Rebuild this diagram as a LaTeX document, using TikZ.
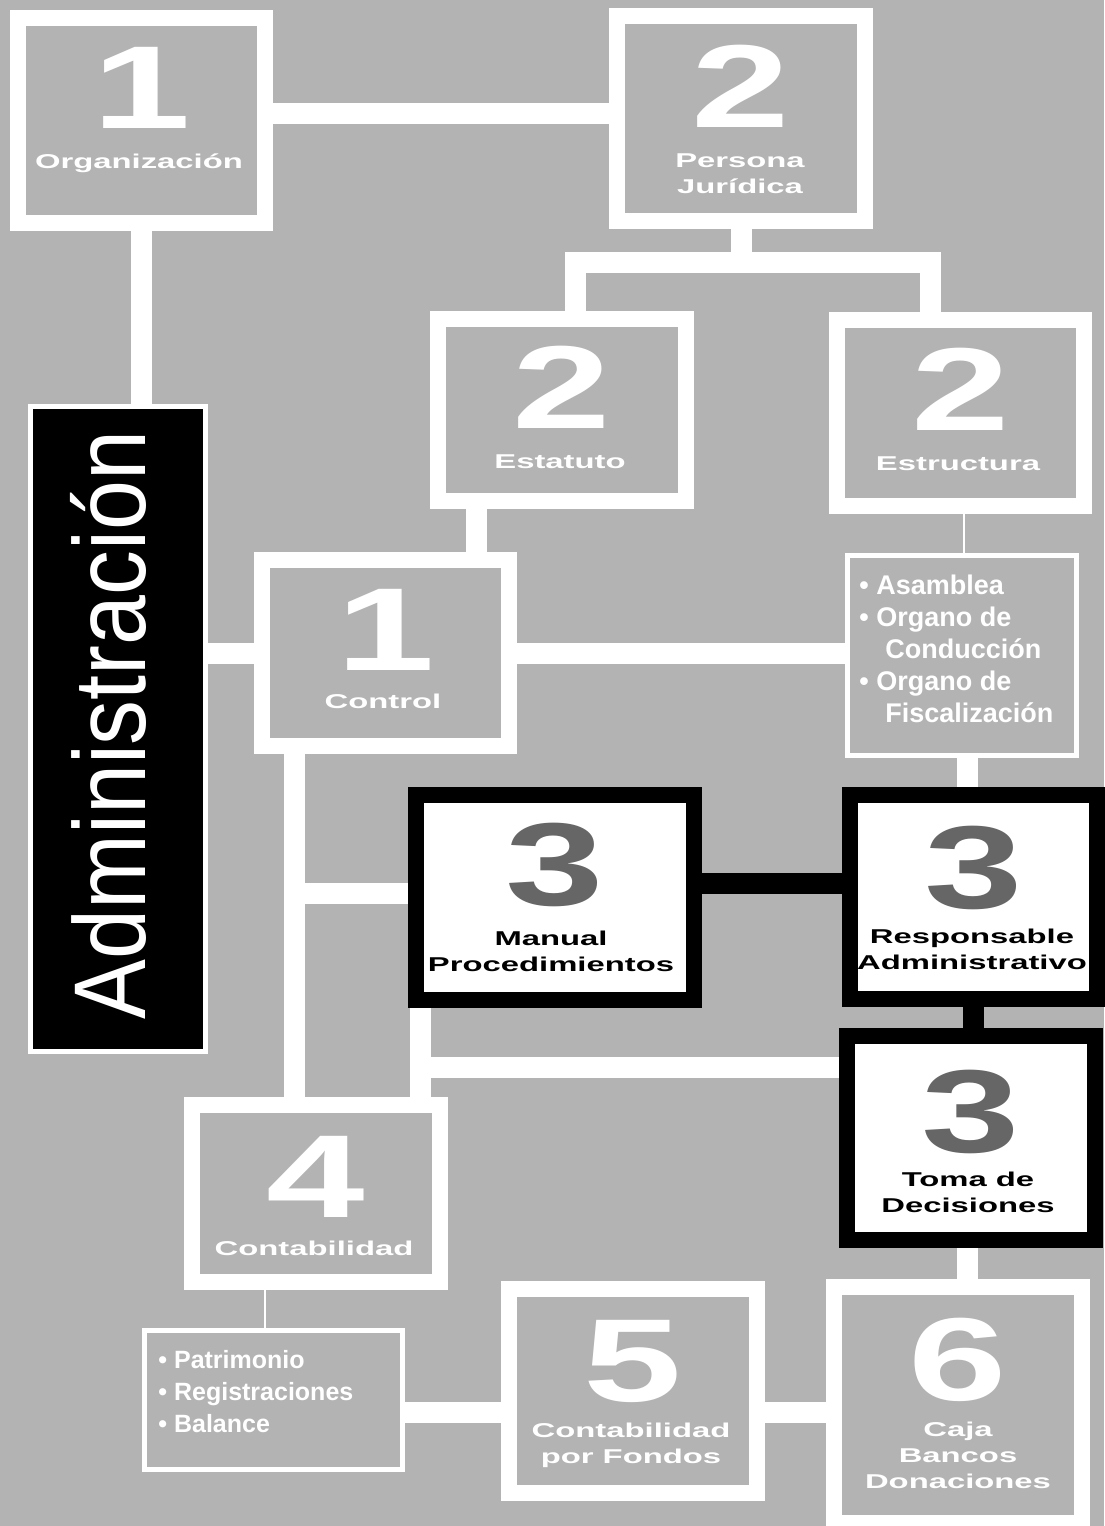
\documentclass[tikz,border=0pt]{standalone}
\usepackage{fontspec}
\setmainfont{Liberation Sans}
\newfontfamily\wf[FakeStretch=1.64]{Liberation Sans}
\newfontfamily\nf[FakeStretch=1.5]{Liberation Sans}
\newfontfamily\af[FakeStretch=0.88]{Liberation Sans}
\pgfdeclarelayer{bglayer}
\pgfdeclarelayer{links}
\pgfsetlayers{bglayer,links,main}
\definecolor{bgc}{RGB}{179,179,179}
\definecolor{numg}{RGB}{102,102,102}
\begin{document}
\begin{tikzpicture}[x=0.5pt,y=-0.5pt,
  gbox/.style={rectangle,draw=white,fill=bgc,line width=8pt,inner sep=0pt},
  kbox/.style={rectangle,draw=black,fill=white,line width=8pt,inner sep=0pt},
  tbox/.style={rectangle,draw=white,fill=bgc,line width=2.5pt,inner sep=0pt},
  wl/.style={draw=white,line width=10.5pt},
  kl/.style={draw=black,line width=10.5pt},
  hair/.style={draw=white,line width=1pt},
  num/.style={font=\nf\bfseries\fontsize{59}{59}\selectfont,text=white,inner sep=0pt,anchor=base,text depth=0pt,text height=43pt},
  knum/.style={num,text=numg},
  lab/.style={font=\wf\bfseries\fontsize{10}{12.8}\selectfont,text=white,inner sep=0pt,anchor=base,align=center},
  klab/.style={lab,text=black},
  lst/.style={font=\bfseries\fontsize{13.5}{16}\selectfont,text=white,inner sep=0pt,anchor=base west,align=left}]

\begin{pgfonlayer}{bglayer}
\fill[bgc] (0,0) rectangle (1104,1526);
\end{pgfonlayer}
\useasboundingbox (0,0) rectangle (1104,1526);

% boxes
\node[gbox,minimum width=123.5pt,minimum height=102.5pt] (b1) at (141.5,120.5) {};
\node[gbox,minimum width=124pt,minimum height=102.5pt] (b2) at (741,118.5) {};
\node[gbox,minimum width=124pt,minimum height=91pt] (est) at (562,410) {};
\node[gbox,minimum width=123.5pt,minimum height=93pt] (estr) at (960.5,413) {};
\node[gbox,minimum width=123.5pt,minimum height=93pt] (ctl) at (385.5,653) {};
\node[kbox,minimum width=139pt,minimum height=102.5pt] (man) at (555,897.5) {};
\node[kbox,minimum width=123.5pt,minimum height=102pt] (resp) at (973.5,897) {};
\node[kbox,minimum width=124pt,minimum height=102pt] (toma) at (971,1138) {};
\node[gbox,minimum width=124pt,minimum height=88.5pt] (cont) at (316,1193.5) {};
\node[gbox,minimum width=124pt,minimum height=102pt] (b5) at (633,1391) {};
\node[gbox,minimum width=124pt,minimum height=118pt] (b6) at (958,1405) {};
\node[tbox,fill=black,minimum width=87.5pt,minimum height=322.5pt] (admin) at (118,729) {};
\node[tbox,minimum width=114.5pt,minimum height=100pt] (lr) at (962,655.5) {};
\node[tbox,minimum width=129pt,minimum height=69.5pt] (ll) at (273.5,1400) {};

% numbers
\node[num] (n1) at (141.5,128) {1};
\node[num] (n2) at (741,127) {2};
\node[num] (n2a) at (562,428) {2};
\node[num] (n2b) at (960.5,430) {2};
\node[num] (n1b) at (385.5,670) {1};
\node[knum] (n3a) at (555,905) {3};
\node[knum] (n3b) at (973.5,908) {3};
\node[knum] (n3c) at (971,1152) {3};
\node[num] (n4) at (316,1217) {4};
\node[num] (n5) at (633,1401) {5};
\node[num] (n6) at (958,1400) {6};

% labels (anchor base = baseline of the last line)
\node[lab] (t1) at (139,168) {Organización};
\node[lab] (t2) at (740,193) {Persona\\Jurídica};
\node[lab] (t2a) at (560,468) {Estatuto};
\node[lab] (t2b) at (958,470) {Estructura};
\node[lab] (t1b) at (383,708) {Control};
\node[klab] (t3a) at (551,971) {Manual\\Procedimientos};
\node[klab] (t3b) at (972,969) {Responsable\\Administrativo};
\node[klab] (t3c) at (968,1212) {Toma de\\Decisiones};
\node[lab] (t4) at (314,1255) {Contabilidad};
\node[lab] (t5) at (631,1463) {Contabilidad\\por Fondos};
\node[lab] (t6) at (958,1488) {Caja\\Bancos\\Donaciones};
\node[lst] (tlr) at (859,722) {• Asamblea\\• Organo de\\\hspace*{13pt}Conducción\\• Organo de\\\hspace*{13pt}Fiscalización};
\node[lst,font=\bfseries\fontsize{12.5}{16}\selectfont] (tll) at (158,1432) {• Patrimonio\\• Registraciones\\• Balance};
\node[rotate=90,anchor=base,font=\af\fontsize{51}{51}\selectfont,text=white,inner sep=0pt] (tadm) at (145,725) {Administración};

% helper coordinates
\coordinate (y113) at (0,113.5);
\coordinate (x141) at (141,0);
\coordinate (barL) at (575.5,262.5);
\coordinate (barR) at (930.5,262.5);
\coordinate (x476) at (476.5,0);
\coordinate (x963) at (963.5,0);
\coordinate (x967) at (967,0);
\coordinate (x294) at (294.5,0);
\coordinate (y893) at (0,893.5);
\coordinate (y883) at (0,883);
\coordinate (x420) at (420.5,0);
\coordinate (y1067) at (0,1067);
\coordinate (x967b) at (967.5,0);
\coordinate (x264) at (264.5,0);
\coordinate (y1412) at (0,1412);

\begin{pgfonlayer}{links}
\draw[wl] (b1.east |- y113) -- (b2.west |- y113);
\draw[wl] (b1.south -| x141) -- (admin.north -| x141);
\draw[wl] (b2.south) -- (b2.south |- barL);
\draw[wl,line join=miter] (est.north -| barL) -- (barL) -- (barR) -- (estr.north -| barR);
\draw[wl] (est.south -| x476) -- (ctl.north -| x476);
\draw[wl] (admin.east |- ctl.west) -- (ctl.west);
\draw[wl] (ctl.east) -- (lr.west |- ctl.east);
\draw[hair] (estr.south -| x963) -- (lr.north -| x963);
\draw[wl] (lr.south -| x967) -- (resp.north -| x967);
\draw[wl] (ctl.south -| x294) -- (cont.north -| x294);
\draw[wl] (x294 |- y893) -- (man.west |- y893);
\draw[kl] (man.east |- y883) -- (resp.west |- y883);
\draw[kl] (resp.south) -- (toma.north -| resp.south);
\draw[wl] (man.south -| x420) -- (cont.north -| x420);
\draw[wl] (x420 |- y1067) -- (toma.west |- y1067);
\draw[wl] (toma.south -| x967b) -- (b6.north -| x967b);
\draw[hair] (cont.south -| x264) -- (ll.north -| x264);
\draw[wl] (ll.east |- y1412) -- (b5.west |- y1412);
\draw[wl] (b5.east |- y1412) -- (b6.west |- y1412);
\end{pgfonlayer}
\end{tikzpicture}
\end{document}
